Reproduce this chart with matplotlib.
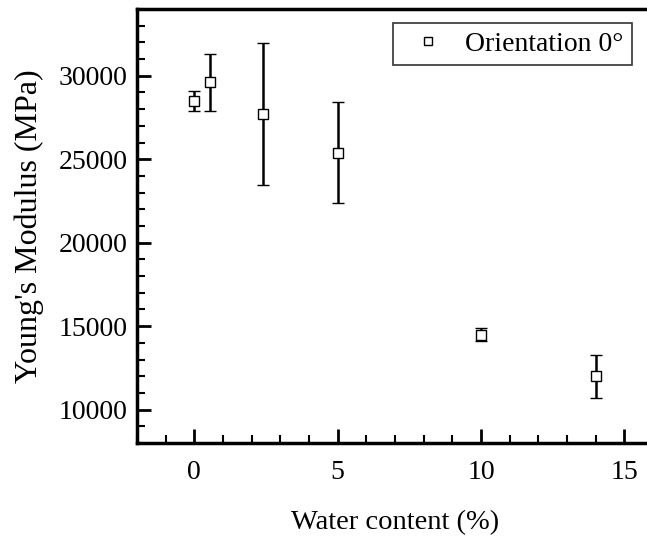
import numpy as np
import matplotlib.pyplot as plt
from matplotlib.lines import Line2D

# water content (%) and Young's modulus (MPa)
water = [0, 0.56, 2.4, 5, 10, 14]
modulus = [28500, 29600, 27700, 25400, 14500, 12000]
err = [600, 1700, 4250, 3000, 400, 1300]

plt.rcParams['font.family'] = ['Liberation Serif', 'DejaVu Serif']

fig = plt.figure(figsize=(6.47, 5.45), dpi=100)
ax = fig.add_axes([137/647, 102/545, 516/647, 434/545])

ax.errorbar(water, modulus, yerr=err, fmt='s', mfc='white', mec='black',
            ms=7, mew=1.0, ecolor='black', elinewidth=1.8, capsize=4.5,
            capthick=1.8, zorder=3)

ax.set_xlim(-2, 16)
ax.set_ylim(8000, 34000)
ax.set_xticks([0, 5, 10, 15])
ax.set_xticks(np.arange(-2, 17, 1), minor=True)
ax.set_yticks([10000, 15000, 20000, 25000, 30000])
ax.set_yticks(np.arange(8000, 34001, 1000), minor=True)

ax.tick_params(which='both', direction='in', top=False, right=False, labelsize=20)
ax.tick_params(axis='x', which='both', pad=12)
ax.tick_params(axis='y', which='both', pad=7)
ax.tick_params(which='major', length=10, width=2)
ax.tick_params(which='minor', length=6, width=1.5)
for s in ax.spines.values():
    s.set_linewidth(2.5)

ax.set_xlabel('Water content (%)', fontsize=20.5, labelpad=18)
ax.set_ylabel("Young's Modulus (MPa)", fontsize=23, labelpad=10)

proxy = Line2D([], [], ls='none', marker='s', mfc='white', mec='black', ms=5.5, mew=1.0)
leg = ax.legend([proxy], ['Orientation 0°'], loc='upper right',
                bbox_to_anchor=((632 - 137) / 516, 1 - 14 / 434),
                fontsize=20, frameon=True, fancybox=False, edgecolor='black',
                handlelength=1.95, borderpad=0.3, handletextpad=0.36, borderaxespad=0)
leg.get_frame().set_linewidth(1.2)

fig.savefig('out.png', dpi=100)
